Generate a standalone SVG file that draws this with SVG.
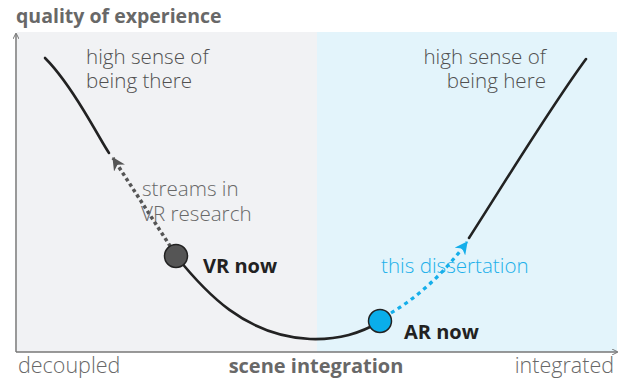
<svg xmlns="http://www.w3.org/2000/svg" width="623" height="378" viewBox="0 0 623 378">
  <style>
    .t { font-family: "Open Sans", "Noto Sans", "DejaVu Sans", sans-serif; font-size: 20.6px; font-weight: 300; }
    .gray { fill: #505050; }
    .muted { fill: #686868; }
    .bold { font-weight: 700; font-size: 20px; }
    .dark { fill: #222; }
    .blue { fill: #1cb0ea; }
    .axis { stroke: #777; stroke-width: 1.5; fill: none; }
    .curve { stroke: #222; stroke-width: 2.6; fill: none; stroke-linecap: round; }
  </style>
  <defs>
    <marker id="axisHead" viewBox="0 0 6 6" refX="5" refY="3" markerWidth="6" markerHeight="6" markerUnits="userSpaceOnUse" orient="auto">
      <path d="M0,0 L6,3 L0,6" fill="none" stroke="#777" stroke-width="1"/>
    </marker>
    <marker id="headGray" viewBox="0 0 12 12" refX="11" refY="6" markerWidth="13" markerHeight="13" markerUnits="userSpaceOnUse" orient="auto">
      <path d="M0,0 L12,6 L0,12 L3.5,6 Z" fill="#555"/>
    </marker>
    <marker id="headBlue" viewBox="0 0 12 12" refX="11" refY="6" markerWidth="13" markerHeight="13" markerUnits="userSpaceOnUse" orient="auto">
      <path d="M0,0 L12,6 L0,12 L3.5,6 Z" fill="#15aeea"/>
    </marker>
  </defs>

  <!-- background regions -->
  <rect x="17" y="32" width="300" height="320" fill="#f1f2f4"/>
  <rect x="317" y="32" width="300" height="320" fill="#e3f4fb"/>

  <!-- axes -->
  <g id="axes">
    <path class="axis" d="M16,352 L16,34" marker-end="url(#axisHead)"/>
    <path class="axis" d="M16,352 L617,352" marker-end="url(#axisHead)"/>
    <text class="t bold muted" x="16" y="23" style="font-size:19.5px">quality of experience</text>
    <text class="t muted" x="18" y="373" style="font-size:21.5px">decoupled</text>
    <text class="t bold muted" x="316" y="373" text-anchor="middle">scene integration</text>
    <text class="t muted" x="614" y="373" text-anchor="end" style="font-size:21.5px">integrated</text>
  </g>

  <!-- connectors: the experience curve -->
  <g id="connectors">
    <path class="curve" d="M45,58 C58,71 70,88 84,111 S103,144 109,153"/>
    <path d="M174,252 L113,158" fill="none" stroke="#555" stroke-width="3.5" stroke-dasharray="3.5,3" marker-end="url(#headGray)"/>
    <path class="curve" d="M176,256 C205,292 245,336 310,339 C340,340 360,333 380,322"/>
    <path d="M391,313 Q434,287 467,242" fill="none" stroke="#15aeea" stroke-width="3.2" stroke-dasharray="4,4" marker-end="url(#headBlue)"/>
    <path class="curve" d="M469,238 C505,182 550,108 586,59"/>
  </g>

  <!-- region labels -->
  <g id="there">
    <text class="t gray" x="86" y="64">high sense of<tspan x="86" y="88">being there</tspan></text>
  </g>
  <g id="here">
    <text class="t gray" x="546" y="64" text-anchor="end">high sense of<tspan x="546" y="88">being here</tspan></text>
  </g>

  <g id="vr-research">
    <text class="t muted" x="142" y="196">streams in<tspan x="141" y="221">VR research</tspan></text>
  </g>

  <g id="vr-now">
    <circle cx="176" cy="256" r="11.5" fill="#555" stroke="#222" stroke-width="1.5"/>
    <text class="t bold dark" x="203" y="273">VR now</text>
  </g>

  <g id="dissertation">
    <text class="t blue" x="381" y="273">this dissertation</text>
  </g>

  <g id="ar-now">
    <circle cx="380" cy="321" r="11.5" fill="#0aaeea" stroke="#222" stroke-width="1.5"/>
    <text class="t bold dark" x="404" y="339">AR now</text>
  </g>
</svg>
